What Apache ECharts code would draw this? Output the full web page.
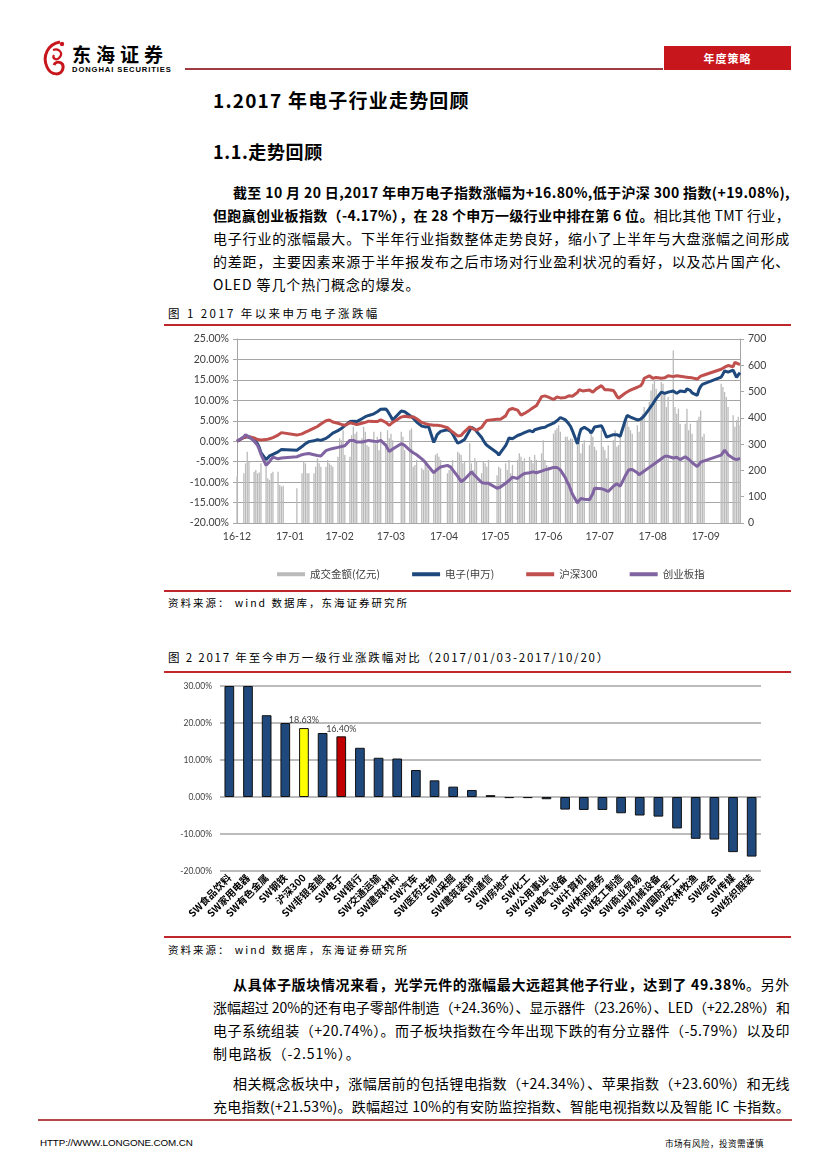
<!DOCTYPE html>
<html><head><meta charset="utf-8">
<script src="https://cdn.jsdelivr.net/npm/echarts@6/dist/echarts.min.js"></script>
<style>
html,body{margin:0;padding:0;background:#fff;}
#page{position:relative;width:827px;height:1170px;overflow:hidden;font-family:"Noto Sans CJK SC","Noto Sans",sans-serif;color:#000;}
.a{position:absolute;white-space:nowrap;}
.jl{position:absolute;white-space:nowrap;font-size:14px;line-height:20px;}
.cap{position:absolute;white-space:nowrap;font-size:11.5px;line-height:16px;letter-spacing:1.6px;}
.src{position:absolute;white-space:nowrap;font-size:10.5px;line-height:14px;letter-spacing:2px;}
.rl{position:absolute;left:164px;width:627px;height:2px;background:#C0272D;}
b{font-weight:700;}
</style></head>
<body><div id="page">
<!-- header -->
<svg class="a" style="left:40px;top:38px" width="30" height="42" viewBox="0 0 30 42">
<path d="M20 4 C8 6 2 18 7 29 C11 38 22 38 23 30 C24 24 16 22 14 27" stroke="#C8161D" stroke-width="3" fill="none"/>
<path d="M13 12 C19 10 24 15 19 20 C16 23 12 20 14 17" stroke="#C8161D" stroke-width="2.2" fill="none"/>
<circle cx="22" cy="6" r="2.2" fill="#C8161D"/>
</svg>
<div class="a" style="left:72px;top:42px;font-size:19px;font-weight:700;letter-spacing:5px;line-height:24px;">东海证券</div>
<div class="a" style="left:72px;top:65px;font-family:'Liberation Sans',sans-serif;font-size:7.6px;font-weight:700;letter-spacing:0.9px;line-height:9px;">DONGHAI SECURITIES</div>
<div class="a" style="left:185px;top:68px;width:478px;height:2px;background:#9E3A42;"></div>
<div class="a" style="left:664px;top:46px;width:127px;height:24px;background:#C8161D;color:#fff;font-size:11px;font-weight:700;line-height:24px;text-align:center;letter-spacing:1px;">年度策略</div>

<div class="a" style="left:213px;top:88px;font-size:19px;font-weight:700;line-height:24px;letter-spacing:1.2px;">1.2017 年电子行业走势回顾</div>
<div class="a" style="left:213px;top:139px;font-size:18px;font-weight:700;line-height:24px;letter-spacing:0.6px;">1.1.走势回顾</div>

<div class="jl fit" data-w="557" style="left:233px;top:182px;"><b>截至 10 月 20 日,2017 年申万电子指数涨幅为+16.80%,低于沪深 300 指数(+19.08%),</b></div>
<div class="jl fit" data-w="577" style="left:213px;top:205px;"><b>但跑赢创业板指数（-4.17%），在 28 个申万一级行业中排在第 6 位。</b>相比其他 TMT 行业，</div>
<div class="jl fit" data-w="577" style="left:213px;top:228px;">电子行业的涨幅最大。下半年行业指数整体走势良好，缩小了上半年与大盘涨幅之间形成</div>
<div class="jl fit" data-w="577" style="left:213px;top:251px;">的差距，主要因素来源于半年报发布之后市场对行业盈利状况的看好，以及芯片国产化、</div>
<div class="jl" style="left:213px;top:274px;letter-spacing:0.9px;">OLED 等几个热门概念的爆发。</div>

<div class="cap" style="left:168px;top:305px;letter-spacing:2.4px;">图 1 2017 年以来申万电子涨跌幅</div>
<div class="rl" style="top:324px;"></div>
<div id="c1" class="a" style="left:160px;top:330px;width:630px;height:258px;"></div>
<div class="rl" style="top:590px;"></div>
<div class="src" style="left:168px;top:596px;">资料来源： wind 数据库，东海证券研究所</div>

<div class="cap" style="left:168px;top:649px;letter-spacing:1.8px;">图 2 2017 年至今申万一级行业涨跌幅对比（2017/01/03-2017/10/20）</div>
<div class="rl" style="top:671px;"></div>
<div id="c2" class="a" style="left:160px;top:676px;width:630px;height:258px;"></div>
<div class="rl" style="top:936px;"></div>
<div class="src" style="left:168px;top:943px;">资料来源： wind 数据库，东海证券研究所</div>

<div class="jl fit" data-w="557" style="left:233px;top:974px;"><b>从具体子版块情况来看，光学元件的涨幅最大远超其他子行业，达到了 49.38%</b>。另外</div>
<div class="jl fit" data-w="577" style="left:213px;top:997px;">涨幅超过 20%的还有电子零部件制造（+24.36%）、显示器件（23.26%）、LED（+22.28%）和</div>
<div class="jl fit" data-w="577" style="left:213px;top:1020px;">电子系统组装（+20.74%）。而子板块指数在今年出现下跌的有分立器件（-5.79%）以及印</div>
<div class="jl" style="left:213px;top:1043px;letter-spacing:0.9px;">制电路板（-2.51%）。</div>
<div class="jl fit" data-w="557" style="left:233px;top:1073px;">相关概念板块中，涨幅居前的包括锂电指数（+24.34%）、苹果指数（+23.60%）和无线</div>
<div class="jl fit" data-w="577" style="left:213px;top:1096px;">充电指数(+21.53%)。跌幅超过 10%的有安防监控指数、智能电视指数以及智能 IC 卡指数。</div>

<div class="a" style="left:38px;top:1119px;width:754px;height:2px;background:#B5484C;"></div>
<div class="a" style="left:40px;top:1137px;font-family:'Liberation Sans',sans-serif;font-size:9.8px;line-height:12px;letter-spacing:-0.1px;">HTTP://WWW.LONGONE.COM.CN</div>
<div class="a" style="left:665px;top:1137px;font-size:8.6px;line-height:12px;letter-spacing:0.4px;">市场有风险，投资需谨慎</div>
</div>
<script>
// fit justified lines
document.querySelectorAll('.fit').forEach(function(el){
  var target=parseFloat(el.dataset.w);
  var w=el.getBoundingClientRect().width;
  var n=el.textContent.length;
  el.style.letterSpacing=((target-w)/n)+'px';
});

// ===== Chart 1 data =====
var holidays=['2017-01-02','2017-01-27','2017-01-30','2017-01-31','2017-02-01','2017-02-02','2017-04-03','2017-04-04','2017-05-01','2017-05-29','2017-05-30','2017-10-02','2017-10-03','2017-10-04','2017-10-05','2017-10-06'];
var tickDates=['2016-12-30','2017-01-30','2017-02-28','2017-03-30','2017-04-30','2017-05-30','2017-06-30','2017-07-30','2017-08-30','2017-09-30'];
// values per trading day (%), 2016-12-30 .. 2017-10-20
var electronics=[0.0,
0.9,1.3,1.1,0.9, 0.5,-0.1,-0.6,-1.5,-2.8, -4.5,-4.2,-3.6,-3.5,-3.2, -2.6,-2.2,-2.0,-2.1,
-2.2, -1.3,-1.0,-0.6,-0.3,-0.1, 0.1,0.2,0.4,0.1,0.2, 0.7,1.0,1.3,1.7,2.0, 2.6,2.9,
3.1,3.5,3.8, 4.8,5.1,4.9,4.6,4.8, 5.5,5.8,6.0,6.1,6.3, 6.7,7.0,7.2,7.4,7.8, 7.9,7.4,7.0,6.0,5.2,
7.4,7.5,7.2, 6.3,6.0,5.6,5.2,4.7, 3.7,3.4,3.5,3.8,3.6, -0.3,0.6,1.6,2.0,2.4,
2.8,2.9,2.4,1.8, -0.5,-0.3,-0.1,0.2,0.4, 2.6,3.4,3.1,2.9,2.6, 0.9,0.2,-0.5,-1.0,-0.9, -2.8,
-3.4,-2.8, -1.1,-0.2,0.8,0.9,0.6, 1.4,1.6,1.7,1.9,2.1, 2.6,2.5,2.3,2.8,3.2, 3.3,3.1,3.4,3.7,3.9,
4.4,4.7,5.0,5.3,5.8, 5.2,4.8,4.2,3.6,2.6, -0.7,1.5,2.9,3.2,3.4, 2.6,2.0,2.7,3.5,3.7, 3.8,
3.0,2.0,1.0,1.2, 1.6,1.7,1.6,1.2,1.2, 5.2,6.3,6.1,5.9,5.8, 5.2,5.1,5.4,5.8,6.2, 7.9,8.5,9.1,9.8,
10.4, 12.0,11.8,11.7,11.6,12.0, 12.3,11.9,11.7,12.0,12.3, 12.1,12.8,13.1,12.4,11.8, 11.2,12.6,13.4,13.9,14.3,
15.7,16.4,17.2,17.1,16.9, 17.4,16.5,15.6,16.2,16.8];
var hs300=[0.0,
0.9,1.1,1.2,1.0, 0.8,0.6,0.4,0.3,0.3, 0.4,0.5,0.6,0.8,0.9, 1.5,1.8,2.1,2.3,
1.5, 1.8,2.0,2.2,2.4,2.6, 3.2,3.4,3.6,3.9,4.2, 5.0,5.4,5.2,5.0,4.7, 4.4,4.3,
4.1,4.0,3.9, 4.5,4.4,4.3,4.2,4.1, 4.4,4.5,4.6,4.8,4.9, 4.8,4.7,4.8,5.0,5.2, 4.6,4.2,3.9,4.3,4.6,
5.9,6.1,6.1, 5.9,5.8,6.0,6.0,5.5, 4.6,4.4,4.3,4.2,4.1, 3.9,3.9,3.9,3.9,3.8,
3.3,2.9,2.6,2.4, 1.3,0.9,1.4,1.9,2.3, 3.5,3.3,3.0,2.7,2.7, 3.4,4.0,4.6,5.1,5.2, 5.4,
5.3,5.4, 6.2,7.0,7.7,7.9,8.0, 7.6,7.0,6.4,6.5,6.8, 7.6,7.9,8.2,8.5,8.7, 10.9,11.0,11.1,11.2,10.8,
10.2,10.5,10.8,10.7,10.6, 10.7,10.9,11.1,11.2,11.0, 11.9,12.6,12.6,12.3,12.0, 12.5,12.3,12.0,12.4,12.8, 13.6,
13.1,12.6,12.4,12.6, 12.4,11.8,11.0,10.5,10.6, 11.8,12.1,12.3,12.5,12.7, 13.2,13.4,13.6,14.2,15.4, 16.0,15.8,15.4,15.5,
15.6, 15.4,15.2,15.5,15.8,16.0, 15.8,15.9,16.0,16.0,15.9, 15.7,15.6,15.6,15.6,15.5, 15.2,15.6,15.9,16.1,16.2,
17.6,17.9,18.1,18.3,18.5, 18.2,19.3,19.0,18.9,18.8];
var chinext=[0.0,
1.1,1.6,1.5,1.1, 0.0,-0.5,-1.0,-2.0,-3.2, -5.9,-5.5,-5.0,-4.4,-3.9, -4.3,-4.2,-4.1,-4.0,
-3.8, -3.3,-3.2,-3.1,-3.0,-3.0, -3.3,-3.4,-3.5,-3.6,-3.6, -2.3,-2.1,-2.0,-1.9,-1.8, -1.5,-1.4,
-1.3,-1.2,-1.1, 0.2,0.5,0.2,0.0,-0.2, -0.2,-0.1,0.0,0.1,0.2, 0.0,-0.2,-0.1,0.0,0.2, -1.0,-1.8,-2.5,-2.3,-1.9,
-0.6,-0.6,-1.0, -2.2,-2.5,-2.8,-3.1,-3.3, -4.3,-4.7,-5.1,-5.7,-6.1, -7.7,-7.3,-6.9,-6.6,-6.3,
-5.9,-6.1,-6.4,-6.7, -8.6,-9.2,-9.9,-9.6,-9.3, -8.0,-7.5,-7.9,-8.4,-8.8, -10.1,-10.2,-10.3,-10.3,-10.3, -11.5,
-11.6,-11.2, -10.3,-10.0,-9.6,-9.2,-8.8, -9.1,-8.8,-8.4,-8.0,-7.9, -7.7,-7.6,-7.5,-7.6,-7.7, -7.3,-7.1,-7.0,-6.9,-6.8,
-6.4,-6.3,-6.4,-6.6,-7.0, -9.0,-10.0,-10.7,-11.8,-12.9, -15.1,-14.5,-14.0,-14.0,-14.2, -14.3,-14.3,-12.8,-11.5,-11.5, -11.6,
-11.8,-11.9,-12.1,-12.3, -11.0,-10.6,-10.4,-10.8,-11.0, -8.4,-7.7,-7.0,-6.7,-6.9, -7.7,-8.2,-8.0,-7.6,-7.2, -6.4,-6.0,-5.8,-5.5,
-5.2, -4.3,-4.0,-3.7,-3.4,-3.7, -4.1,-3.9,-3.9,-4.3,-4.5, -3.8,-4.1,-4.4,-4.8,-5.2, -6.2,-5.7,-5.1,-4.9,-4.8,
-3.4,-2.8,-2.2,-2.7,-3.3, -4.2,-4.6,-4.5,-4.3,-4.2];
// turnover (亿元) per trading day
var turnover=[177,
189,227,271,233, 195,202,189,192,227, 233,170,164,189,195, 195,145,139,142,
132, 189,233,227,189,189, 189,214,246,227,214, 214,240,227,221,214, 252,322,
315,353,259, 252,334,366,340,347, 322,366,347,296,290, 347,303,328,277,347, 303,353,322,340,315,
347,328,277, 353,360,214,221,240, 208,202,227,214,202, 202,259,265,252,240,
189,202,221,240, 271,265,259,227,233, 303,227,202,246,233, 189,233,227,214,240, 182,
214,208, 227,202,240,189,221, 240,265,252,233,246, 252,240,227,259,240, 265,315,240,221,214,
340,353,360,372,347, 328,328,315,322,320, 296,340,265,302,315, 296,340,328,290,277, 353,
290,277,246,296, 315,353,290,296,328, 378,391,366,353,340, 372,347,404,416,441, 460,504,530,542,
511, 536,530,491,441,479, 656,441,416,435,378, 378,435,353,378,340, 391,404,428,328,340,
530,517,498,479,441, 410,366,391,404,373];
var legendNames=['成交金额(亿元)','电子(申万)','沪深300','创业板指'];

// calendar axis and trading-day mapping
var calendarDays=[], tradingDays=[];
for(var t=Date.UTC(2016,11,30); t<=Date.UTC(2017,9,20); t+=86400000){
  var dt=new Date(t), s=dt.toISOString().slice(0,10), wd=dt.getUTCDay();
  calendarDays.push(s);
  if(wd!==0 && wd!==6 && holidays.indexOf(s)<0) tradingDays.push(s);
}
var idx={}; tradingDays.forEach(function(s,k){idx[s]=k;});
function onCalendar(arr){return calendarDays.map(function(s){var k=idx[s];return (k===undefined||k>=arr.length)?null:arr[k];});}

var c1=echarts.init(document.getElementById('c1'),null,{renderer:'canvas'});
var axisFont='Lato, "Liberation Sans", sans-serif';
c1.setOption({
  animation:false,
  grid:{left:77,right:50,top:9,bottom:65},
  legend:{left:112,top:234,itemWidth:28,itemHeight:4,itemGap:32,icon:'rect',
    textStyle:{fontSize:10.5,color:'#404040',fontFamily:'"Noto Sans CJK SC"'},
    data:legendNames},
  xAxis:{type:'category',data:calendarDays,boundaryGap:false,
    axisLine:{show:true,lineStyle:{color:'#A6A6A6',width:1}},axisTick:{show:false},
    axisLabel:{interval:function(i,v){return tickDates.indexOf(v)>=0;},formatter:function(v){return v.slice(2,7);},
      color:'#404040',fontSize:10.5,margin:8,fontFamily:axisFont},
    splitLine:{show:false}},
  yAxis:[
    {type:'value',min:-20,max:25,interval:5,
     axisLine:{show:true,lineStyle:{color:'#A6A6A6'}},axisTick:{show:true,length:4,lineStyle:{color:'#A6A6A6'}},
     axisLabel:{formatter:function(v){return v.toFixed(2)+'%';},color:'#404040',fontSize:10.5,margin:8,fontFamily:axisFont},
     splitLine:{show:true,lineStyle:{color:'#A6A6A6',width:1}}},
    {type:'value',min:0,max:700,interval:100,position:'right',
     axisLine:{show:true,lineStyle:{color:'#A6A6A6'}},axisTick:{show:true,length:4,lineStyle:{color:'#A6A6A6'}},
     axisLabel:{color:'#404040',fontSize:10.5,margin:8,fontFamily:axisFont},splitLine:{show:false}}
  ],
  series:[
    {name:legendNames[0],type:'bar',yAxisIndex:1,data:onCalendar(turnover),barWidth:1.3,itemStyle:{color:'#BABABA'},z:1},
    {name:legendNames[1],type:'line',data:onCalendar(electronics),connectNulls:true,showSymbol:false,symbol:'none',lineStyle:{color:'#1F497D',width:3},itemStyle:{color:'#1F497D'},z:3},
    {name:legendNames[2],type:'line',data:onCalendar(hs300),connectNulls:true,showSymbol:false,symbol:'none',lineStyle:{color:'#C0504D',width:3},itemStyle:{color:'#C0504D'},z:4},
    {name:legendNames[3],type:'line',data:onCalendar(chinext),connectNulls:true,showSymbol:false,symbol:'none',lineStyle:{color:'#8064A2',width:3},itemStyle:{color:'#8064A2'},z:5}
  ]
});

// ===== Chart 2 data =====
var industries=['SW食品饮料','SW家用电器','SW有色金属','SW钢铁','沪深300','SW非银金融','SW电子','SW银行','SW交通运输','SW建筑材料','SW汽车','SW医药生物','SW采掘','SW建筑装饰','SW通信','SW房地产','SW化工','SW公用事业','SW电气设备','SW计算机','SW休闲服务','SW轻工制造','SW商业贸易','SW机械设备','SW国防军工','SW农林牧渔','SW综合','SW传媒','SW纺织服装'];
var ytdReturn=[30.0,30.0,22.1,20.0,18.63,17.3,16.40,13.3,10.6,10.4,7.3,4.5,2.8,1.9,0.5,-0.3,-0.3,-0.6,-3.4,-3.5,-3.5,-4.4,-5.0,-5.3,-8.5,-11.3,-11.5,-14.9,-16.1];
var labelled=['沪深300','SW电子'];
var specialColor={'沪深300':'#FFFF00','SW电子':'#C00000'};

var c2=echarts.init(document.getElementById('c2'),null,{renderer:'canvas'});
c2.setOption({
  animation:false,
  grid:{left:60,right:29,top:10,bottom:63},
  xAxis:{type:'category',data:industries,
    axisLine:{show:false},axisTick:{show:false},
    axisLabel:{interval:0,rotate:45,fontSize:10,fontWeight:'bold',color:'#000',margin:5,fontFamily:'"Noto Sans CJK SC"'}},
  yAxis:{type:'value',min:-20,max:30,interval:10,
    axisLine:{show:false},axisTick:{show:false},
    axisLabel:{formatter:function(v){return v.toFixed(2)+'%';},fontSize:8.5,color:'#404040',margin:8,fontFamily:axisFont},
    splitLine:{lineStyle:{color:'#A6A6A6',width:1.5}}},
  series:[{type:'bar',barWidth:'52%',
    data:ytdReturn.map(function(v,i){
      var n=industries[i];
      var o={value:v};
      if(specialColor[n]) o.itemStyle={color:specialColor[n]};
      if(labelled.indexOf(n)>=0) o.label={show:true,position:'top',distance:3,formatter:function(p){return p.value.toFixed(2)+'%';},fontSize:9,color:'#404040',fontFamily:axisFont};
      return o;
    }),
    itemStyle:{color:'#1F497D',borderColor:'#111',borderWidth:1}}]
});
</script>
</body></html>
